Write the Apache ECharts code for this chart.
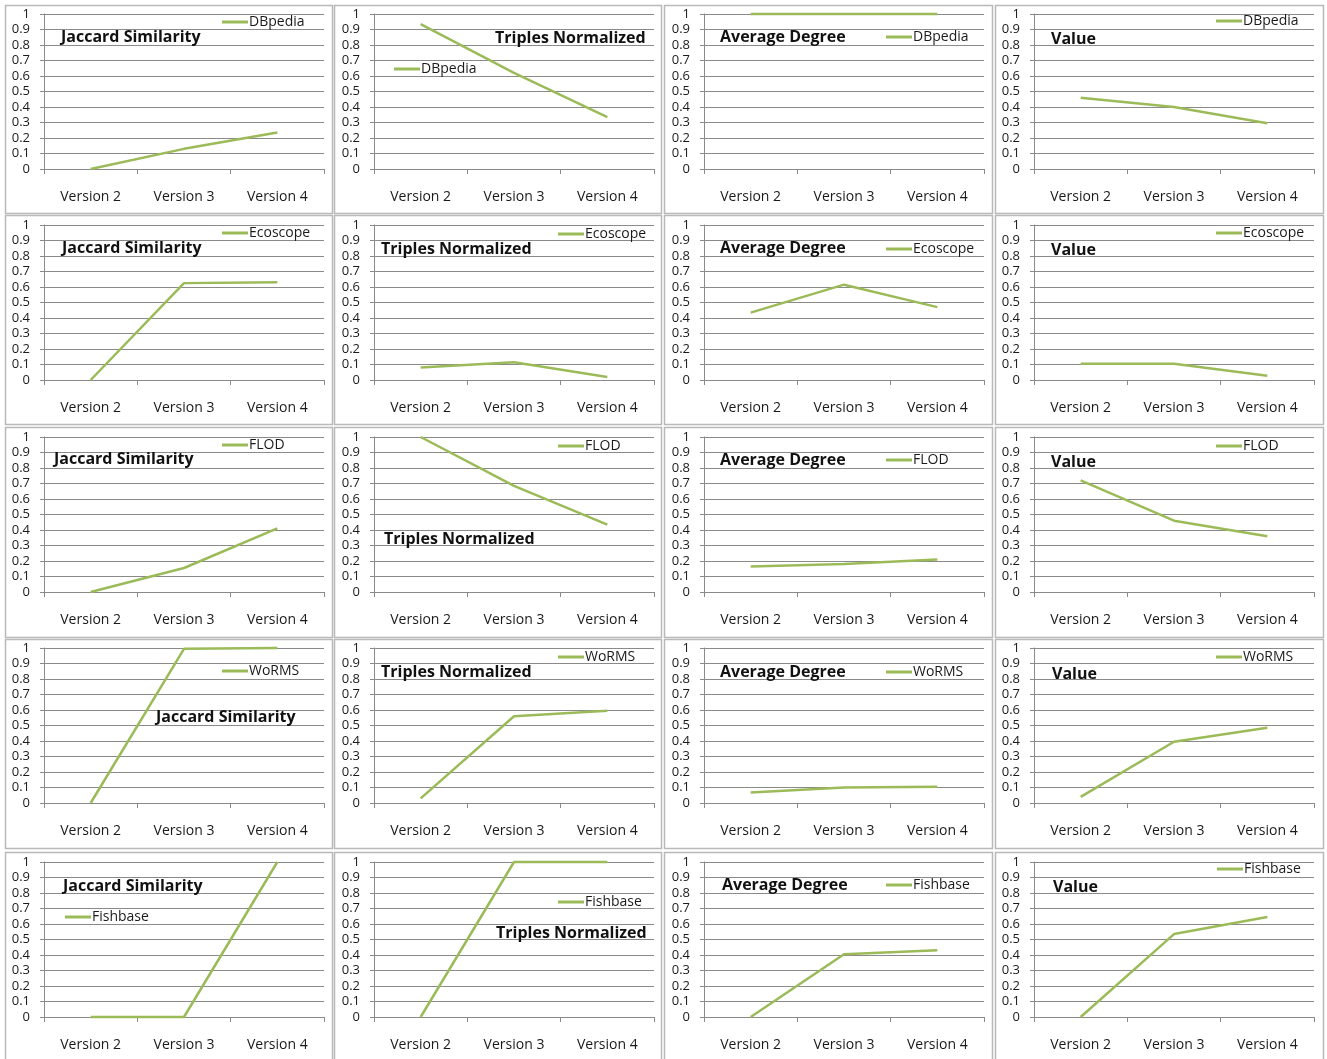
<!DOCTYPE html>
<html>
<head>
<meta charset="utf-8">
<script src="https://cdn.jsdelivr.net/npm/echarts@6/dist/echarts.min.js"></script>
<style>
  html, body { margin: 0; padding: 0; background: #fff; }
  #chart { width: 1327px; height: 1059px; }
</style>
</head>
<body>
<div id="chart"></div>
<script>
// ---- data ----
const versions = ['Version 2', 'Version 3', 'Version 4'];
const sources = ['DBpedia', 'Ecoscope', 'FLOD', 'WoRMS', 'Fishbase'];
const metrics = ['Jaccard Similarity', 'Triples Normalized', 'Average Degree', 'Value'];

// one row per source, one value per version
const jaccardSimilarity = [
  [0, 0.13, 0.235],
  [0, 0.625, 0.63],
  [0, 0.155, 0.41],
  [0, 0.995, 1],
  [0, 0, 1]
];
const triplesNormalized = [
  [0.935, 0.62, 0.335],
  [0.08, 0.115, 0.02],
  [1, 0.685, 0.435],
  [0.03, 0.56, 0.595],
  [0, 1, 1]
];
const averageDegree = [
  [1, 1, 1],
  [0.435, 0.615, 0.47],
  [0.165, 0.18, 0.21],
  [0.067, 0.1, 0.105],
  [0, 0.405, 0.43]
];
const valueScore = [
  [0.46, 0.40, 0.295],
  [0.105, 0.105, 0.028],
  [0.72, 0.46, 0.36],
  [0.04, 0.395, 0.485],
  [0, 0.535, 0.645]
];
const yMin = 0, yMax = 1, yStep = 0.1;

const metricData = [jaccardSimilarity, triplesNormalized, averageDegree, valueScore];

// ---- layout ----
const panelX = [[5, 332], [334, 661], [664, 992], [995, 1323]];
const panelY = [[5, 213], [215, 424], [427, 637], [639, 848], [852, 1061]];
const plotLeft = [44, 374, 704, 1034];
const plotTop = [14, 225, 437, 648, 862];
const plotW = 280, plotH = 155;

// title [left, centerY] per row/column
const titlePos = [
  [[61, 36], [495, 37], [720, 36], [1051, 38]],
  [[62, 247], [381, 248], [720, 247], [1051, 249]],
  [[54, 458], [384, 538], [720, 459], [1051, 461]],
  [[156, 716], [381, 671], [720, 671], [1052, 673]],
  [[63, 885], [496, 932], [722, 884], [1053, 886]]
];
// legend [lineStart, centerY] per row/column
const legendPos = [
  [[222, 21], [394, 68], [886, 36], [1216, 20]],
  [[222, 232], [558, 233], [886, 248], [1216, 232]],
  [[222, 444], [558, 445], [886, 459], [1216, 445]],
  [[222, 670], [558, 656], [886, 671], [1216, 656]],
  [[65, 916], [558, 901], [886, 884], [1217, 868]]
];

const FONT = 'Open Sans';
const GREEN = '#9BBB59';
const GRID_GRAY = '#8a8a8a';
const TEXT = '#1a1a1a';

const graphic = [], titles = [], legends = [], grids = [], xAxes = [], yAxes = [], series = [];

sources.forEach((src, r) => {
  metrics.forEach((metric, c) => {
    const i = r * metrics.length + c;
    const [x0, x1] = panelX[c];
    const [y0, y1] = panelY[r];
    graphic.push({
      type: 'rect',
      silent: true,
      shape: { x: x0 + 0.5, y: y0 + 0.5, width: x1 - x0, height: y1 - y0 },
      style: { fill: 'none', stroke: '#b9b9b9', lineWidth: 1.5 }
    });
    titles.push({
      text: metric,
      left: titlePos[r][c][0],
      top: titlePos[r][c][1] - 7,
      padding: 0,
      textStyle: { fontFamily: FONT, fontSize: 16, fontWeight: 'bold', color: '#111' }
    });
    legends.push({
      data: [src],
      left: legendPos[r][c][0],
      top: legendPos[r][c][1] - 6,
      padding: 0,
      icon: 'rect',
      itemWidth: 26,
      itemHeight: 3,
      selectedMode: false,
      textStyle: { fontFamily: FONT, fontSize: 14, color: TEXT, padding: [0, 0, 0, -4] }
    });
    grids.push({
      left: plotLeft[c], top: plotTop[r], width: plotW, height: plotH,
      containLabel: false
    });
    xAxes.push({
      type: 'category',
      gridIndex: i,
      data: versions,
      boundaryGap: true,
      axisLine: { lineStyle: { color: GRID_GRAY, width: 1 } },
      axisTick: { show: true, length: 5, lineStyle: { color: GRID_GRAY } },
      axisLabel: { margin: 21, fontFamily: FONT, fontSize: 14, color: TEXT }
    });
    yAxes.push({
      type: 'value',
      gridIndex: i,
      min: yMin, max: yMax, interval: yStep,
      axisLine: { show: true, lineStyle: { color: GRID_GRAY, width: 1 } },
      axisTick: { show: true, length: 4, lineStyle: { color: GRID_GRAY } },
      splitLine: { show: true, lineStyle: { color: GRID_GRAY, width: 1 } },
      axisLabel: {
        margin: 14, fontFamily: FONT, fontSize: 13, color: TEXT,
        formatter: v => String(Math.round(v * 10) / 10)
      }
    });
    series.push({
      type: 'line',
      name: src,
      xAxisIndex: i,
      yAxisIndex: i,
      data: metricData[c][r],
      symbol: 'none',
      clip: false,
      lineStyle: { color: GREEN, width: 2.5 },
      itemStyle: { color: GREEN }
    });
  });
});

const chart = echarts.init(document.getElementById('chart'), null, { renderer: 'canvas' });
chart.setOption({
  animation: false,
  backgroundColor: '#ffffff',
  graphic: graphic,
  title: titles,
  legend: legends,
  grid: grids,
  xAxis: xAxes,
  yAxis: yAxes,
  series: series
});
</script>
</body>
</html>
